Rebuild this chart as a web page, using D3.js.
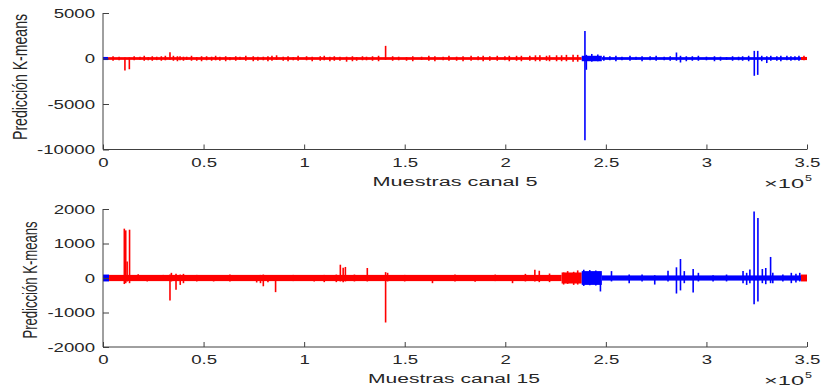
<!DOCTYPE html>
<html><head><meta charset="utf-8">
<script src="https://cdn.jsdelivr.net/npm/d3@7"></script>
<style>
html,body{margin:0;padding:0;background:#fff;}
svg{display:block;}
text{font-family:"Liberation Sans",Arial,Helvetica,sans-serif;fill:#262626;}
</style></head>
<body>
<svg id="chart" width="822" height="389"></svg>
<script>
// ---------- data ----------
const xTicks = [0, 0.5, 1, 1.5, 2, 2.5, 3, 3.5];           // ×10^5 samples
const yTicks5 = [5000, 0, -5000, -10000];
const yTicks15 = [2000, 1000, 0, -1000, -2000];
const clusterColors = ["#ff0000", "#0000ff"];

// Channel 5: baseline band segments (start, end, half-amplitude, cluster)
const segStart5 = [0, 2500, 238000, 248000, 347000];
const segEnd5   = [2500, 238000, 248000, 347000, 350000];
const segAmp5   = [170, 150, 300, 150, 170];
const segClass5 = [1, 0, 1, 1, 0];
// Channel 5: spikes (sample, max, min)
const spikeX5  = [5000,8000,10900,13100,15500,18400,20500,22500,24500,26700,29000,31000,33300,35000,37000,38300,40000,41600,44000,46600,49000,51500,54000,56000,58100,61000,63100,66000,68100,71000,74700,77000,79700,82000,84000,86300,89600,92000,94600,97000,101200,104000,108000,110000,112800,115000,117800,121100,124000,126100,129000,131000,134000,137000,140500,144000,147000,150900,154000,158400,162000,165000,169100,172000,175800,179000,183000,186500,189000,192300,196000,199800,202000,205600,208000,212200,215000,217200,220500,222000,225500,228000,230400,233700,236000,239600,240300,243000,246000,249000,252000,255000,258000,262000,265000,268000,272000,275000,279000,282000,285100,287100,290000,293000,296000,300000,304000,307000,310000,313000,316000,318000,321000,323800,325500,327500,330000,332000,335000,337000,340000,342000,344000,346000,348500];
const spikeHi5 = [250,200,120,120,250,200,300,150,250,200,250,300,700,300,250,250,200,200,300,150,250,250,200,300,200,250,150,250,200,300,250,200,200,250,300,350,200,250,150,300,250,200,250,300,200,250,200,200,250,150,250,200,250,300,1390,250,200,150,250,200,300,250,200,300,200,250,300,250,300,250,300,250,300,300,300,300,350,350,300,350,350,350,400,400,400,3030,400,500,450,300,250,300,200,300,200,250,250,300,200,250,660,300,250,250,300,200,250,200,150,250,200,250,300,840,840,300,250,300,250,300,300,250,250,300,300];
const spikeLo5 = [-250,-200,-1330,-1180,-200,-150,-250,-200,-250,-180,-250,-200,-150,-250,-300,-200,-250,-150,-250,-250,-300,-200,-250,-200,-250,-300,-200,-250,-150,-250,-300,-250,-200,-300,-250,-150,-250,-300,-200,-250,-200,-300,-250,-200,-300,-250,-250,-350,-300,-250,-200,-200,-250,-300,-150,-250,-200,-250,-300,-150,-250,-300,-200,-250,-250,-300,-250,-200,-300,-250,-250,-200,-300,-250,-300,-250,-300,-300,-250,-300,-300,-300,-300,-350,-350,-8980,-1240,-350,-300,-250,-200,-300,-200,-250,-150,-300,-200,-250,-200,-250,-250,-440,-300,-250,-250,-200,-300,-250,-150,-250,-200,-250,-300,-1900,-1800,-300,-500,-250,-250,-300,-200,-250,-200,-250,-200];

// Channel 15
const segStart15 = [0, 3000, 228000, 238000, 248000, 347000];
const segEnd15   = [3000, 228000, 238000, 248000, 347000, 350000];
const segAmp15   = [100, 90, 160, 200, 75, 100];
const segClass15 = [1, 0, 0, 1, 1, 0];
const spikeX15  = [10600,11300,12000,13200,17500,22000,30000,33300,34000,36300,38400,40000,46600,55000,63100,70000,76400,78300,79700,82000,85800,94600,105000,110000,116000,118000,119400,120500,125000,131400,140500,141500,150000,163800,175000,185000,195000,203600,210000,214700,216900,222000,229000,231000,234000,236000,239000,242000,245000,247300,252800,261600,268000,274300,280900,285100,287100,289000,293400,296000,303300,310000,318200,320000,321600,323700,325600,327800,329500,331900,333000,338000,342200,344500,346400];
const spikeHi15 = [1430,1380,480,1400,110,80,90,100,150,120,100,120,90,80,100,80,80,90,100,80,80,90,80,90,100,385,300,320,100,290,170,150,90,80,100,90,100,80,120,240,210,130,160,200,180,220,240,230,220,150,200,100,100,80,210,310,550,200,260,150,80,100,200,150,250,1930,1740,260,290,610,150,100,150,120,150];
const spikeLo15 = [-175,-150,-100,-150,-80,-100,-80,-650,-100,-340,-200,-150,-100,-100,-100,-90,-130,-150,-240,-120,-410,-90,-100,-120,-120,-100,-120,-100,-100,-100,-1290,-100,-100,-150,-100,-110,-90,-150,-100,-100,-120,-120,-190,-170,-200,-190,-230,-210,-220,-390,-100,-150,-100,-190,-100,-450,-360,-150,-420,-100,-100,-100,-150,-200,-150,-760,-680,-150,-180,-150,-150,-100,-150,-130,-100];

// ---------- drawing ----------
const svg = d3.select("#chart");
const STRETCH = 1.55;

function stretchText(sel, k) {
  sel.each(function () {
    const L = this.getComputedTextLength();
    d3.select(this).attr("textLength", L * k).attr("lengthAdjust", "spacingAndGlyphs");
  });
}

function panel(cfg) {
  const x = d3.scaleLinear().domain([0, 350000]).range([103, 807]);
  const y = d3.scaleLinear().domain(cfg.yDomain).range(cfg.yRange);
  const g = svg.append("g");

  const segs = cfg.segStart.map((s, i) => ({s, e: cfg.segEnd[i], a: cfg.segAmp[i], c: cfg.segClass[i]}));
  const classAt = v => { const sg = segs.find(d => v >= d.s && v < d.e); return sg ? sg.c : 0; };

  // baseline bands
  g.selectAll("rect.band").data(segs).join("rect")
    .attr("x", d => x(d.s)).attr("width", d => x(d.e) - x(d.s))
    .attr("y", d => y(d.a)).attr("height", d => y(-d.a) - y(d.a))
    .attr("fill", d => clusterColors[d.c]);

  // spikes
  const spikes = cfg.spikeX.map((v, i) => ({v, hi: cfg.spikeHi[i], lo: cfg.spikeLo[i]}));
  g.selectAll("line.spike").data(spikes).join("line")
    .attr("x1", d => x(d.v)).attr("x2", d => x(d.v))
    .attr("y1", d => y(d.hi)).attr("y2", d => y(d.lo))
    .attr("stroke", d => clusterColors[classAt(d.v)])
    .attr("stroke-width", 1.6);

  // axes (MATLAB style: ticks inward, no box)
  const axCol = "#404040";
  const yAx = g.append("g").attr("transform", "translate(103,0)")
    .call(d3.axisRight(y).tickValues(cfg.yTicks).tickSize(6).tickFormat(d => String(d)));
  yAx.select(".domain").attr("stroke", axCol).attr("d", `M0,${cfg.yRange[1]}V${cfg.yRange[0]}`);
  yAx.selectAll(".tick line").attr("stroke", axCol);
  yAx.selectAll(".tick text").attr("x", -8).attr("text-anchor", "end")
    .attr("font-size", 12).attr("fill", "#262626").attr("dy", "0.36em")
    .style("font-family", '"Liberation Sans",Arial,sans-serif');
  stretchText(yAx.selectAll(".tick text"), STRETCH);

  const xAx = g.append("g").attr("transform", `translate(0,${cfg.yRange[0]})`)
    .call(d3.axisTop(x).tickValues(xTicks.map(t => t * 1e5)).tickSize(5).tickFormat(d => String(d / 1e5)));
  xAx.select(".domain").attr("stroke", axCol).attr("d", `M103,0H807`);
  xAx.selectAll(".tick line").attr("stroke", axCol);
  xAx.selectAll(".tick text").attr("y", 17).attr("dy", 0).attr("font-size", 12).attr("fill", "#262626")
    .style("font-family", '"Liberation Sans",Arial,sans-serif');
  stretchText(xAx.selectAll(".tick text"), STRETCH);

  // x label
  g.append("text").attr("x", cfg.xlabX).attr("y", cfg.yRange[0] + 36).attr("text-anchor", "middle")
    .attr("font-size", 12.5).attr("textLength", cfg.xlabW).attr("lengthAdjust", "spacingAndGlyphs")
    .text(cfg.xlabel);

  // exponent
  g.append("text").attr("x", 804).attr("y", cfg.yRange[0] + 38).attr("text-anchor", "end")
    .attr("font-size", 12).attr("textLength", 40).attr("lengthAdjust", "spacingAndGlyphs").text("×10");
  g.append("text").attr("x", 805).attr("y", cfg.yRange[0] + 31).attr("text-anchor", "start")
    .attr("font-size", 9).attr("textLength", 7).attr("lengthAdjust", "spacingAndGlyphs").text("5");

  // y label
  g.append("text").attr("text-anchor", "middle").attr("font-size", 13)
    .attr("transform", `translate(${cfg.ylabX},${cfg.ylabY}) scale(1.6,1) rotate(-90)`)
    .attr("textLength", cfg.ylabL).attr("lengthAdjust", "spacingAndGlyphs")
    .text("Predicción K-means");
}

panel({
  yDomain: [-10000, 5000], yRange: [149.5, 13], yTicks: yTicks5,
  segStart: segStart5, segEnd: segEnd5, segAmp: segAmp5, segClass: segClass5,
  spikeX: spikeX5, spikeHi: spikeHi5, spikeLo: spikeLo5,
  xlabel: "Muestras canal 5", xlabX: 455, xlabW: 165,
  ylabX: 27, ylabY: 77, ylabL: 126
});
panel({
  yDomain: [-2000, 2000], yRange: [347, 209], yTicks: yTicks15,
  segStart: segStart15, segEnd: segEnd15, segAmp: segAmp15, segClass: segClass15,
  spikeX: spikeX15, spikeHi: spikeHi15, spikeLo: spikeLo15,
  xlabel: "Muestras canal 15", xlabX: 454, xlabW: 172,
  ylabX: 37, ylabY: 280, ylabL: 117
});
</script>
</body></html>
